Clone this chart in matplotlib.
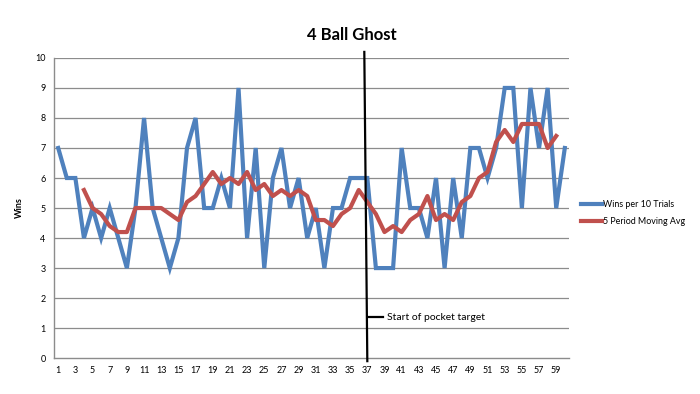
import matplotlib.pyplot as plt

# данные
trials = list(range(1, 61))
wins = [7, 6, 6, 4, 5, 4, 5, 4, 3, 5,
        8, 5, 4, 3, 4, 7, 8, 5, 5, 6,
        5, 9, 4, 7, 3, 6, 7, 5, 6, 4,
        5, 3, 5, 5, 6, 6, 6, 3, 3, 3,
        7, 5, 5, 4, 6, 3, 6, 4, 7, 7,
        6, 7, 9, 9, 5, 9, 7, 9, 5, 7]

ma_x = list(range(4, 60))
ma_vals = [5.6, 5.0, 4.8, 4.4, 4.2, 4.2, 5.0, 5.0, 5.0, 5.0,
           4.8, 4.6, 5.2, 5.4, 5.8, 6.2, 5.8, 6.0, 5.8, 6.2,
           5.6, 5.8, 5.4, 5.6, 5.4, 5.6, 5.4, 4.6, 4.6, 4.4,
           4.8, 5.0, 5.6, 5.2, 4.8, 4.2, 4.4, 4.2, 4.6, 4.8,
           5.4, 4.6, 4.8, 4.6, 5.2, 5.4, 6.0, 6.2, 7.2, 7.6,
           7.2, 7.8, 7.8, 7.8, 7.0, 7.4]

x_ticks = list(range(1, 61, 2))
y_ticks = list(range(0, 11))

plt.rcParams['font.family'] = ['Lato', 'DejaVu Sans']

fig = plt.figure(figsize=(7, 3.94), dpi=100)
ax = fig.add_axes([0.077, 0.091, 0.736, 0.762])

for y in y_ticks[1:]:
    ax.axhline(y, color='#8c8c8c', lw=0.9, zorder=0)

ax.plot(trials, wins, color='#4F81BD', lw=3, label='Wins per 10 Trials',
        solid_joinstyle='miter', zorder=3)
ax.plot(ma_x, ma_vals, color='#C0504D', lw=3, label='5 Period Moving Avg',
        solid_joinstyle='round', zorder=4)

# линия начала
ax.plot([36.65, 37.0], [10.2, -0.1], color='black', lw=1.6, clip_on=False, zorder=5)
ax.plot([37.05, 38.8], [1.37, 1.37], color='black', lw=1.6, zorder=5)
ax.text(39.3, 1.37, 'Start of pocket target', fontsize=7.5, va='center')

ax.set_xlim(0.5, 60.5)
ax.set_ylim(0, 10)
ax.set_xticks(x_ticks)
ax.set_yticks(y_ticks)
ax.tick_params(length=0, labelsize=6.5, pad=6)
for s in ['top', 'right']:
    ax.spines[s].set_visible(False)
for s in ['left', 'bottom']:
    ax.spines[s].set_color('#8c8c8c')
    ax.spines[s].set_linewidth(1.0)

ax.set_ylabel('Wins', fontsize=6.5, fontweight='bold', labelpad=8)
fig.text(0.503, 0.91, '4 Ball Ghost', ha='center', va='center',
         fontsize=12, fontweight='bold')

ax.legend(loc='center left', bbox_to_anchor=(1.015, 0.483), frameon=False,
          fontsize=6.4, handlelength=2.3, handletextpad=0.1, labelspacing=0.85,
          borderpad=0)

fig.savefig('out.png', dpi=100)
